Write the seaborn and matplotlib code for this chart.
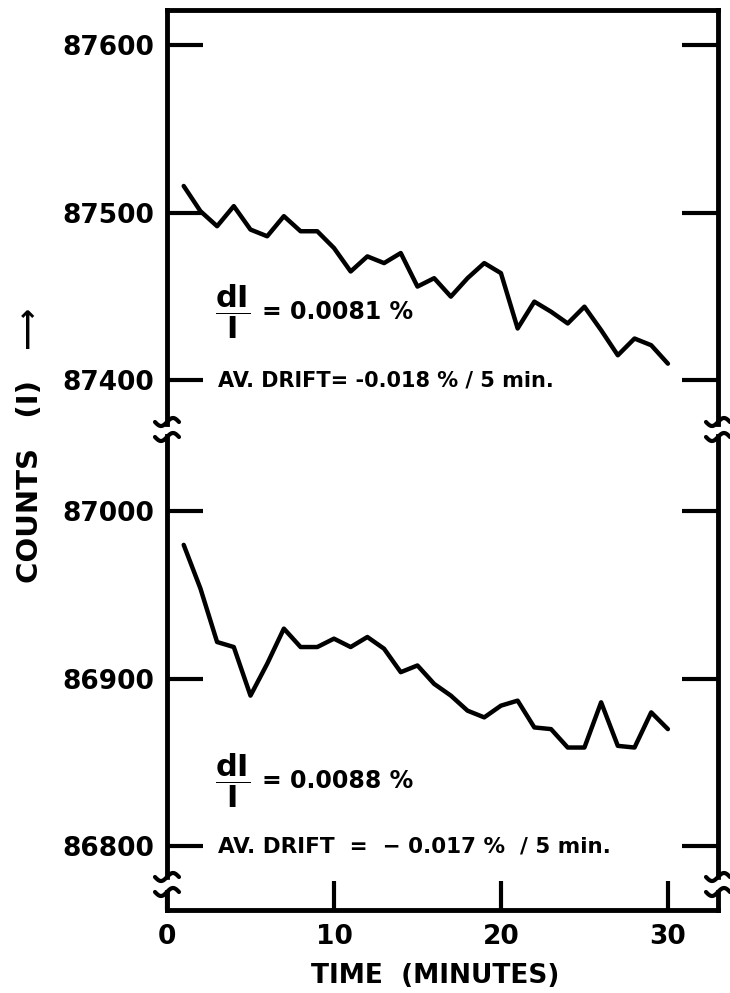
import numpy as np
import matplotlib
matplotlib.use("Agg")
import matplotlib.pyplot as plt
import seaborn as sns
from matplotlib.lines import Line2D
from matplotlib.patches import Rectangle

# Dados (contagens por minuto)
minutes = list(range(1, 31))
top_counts = [87516, 87501, 87492, 87504, 87490, 87486, 87498, 87489, 87489, 87479,
              87465, 87474, 87470, 87476, 87456, 87461, 87450, 87461, 87470, 87464,
              87431, 87447, 87441, 87434, 87444, 87430, 87415, 87425, 87421, 87410]
bottom_counts = [86980, 86954, 86922, 86919, 86890, 86909, 86930, 86919, 86919, 86924,
                 86919, 86925, 86918, 86904, 86908, 86897, 86890, 86881, 86877, 86884,
                 86887, 86871, 86870, 86859, 86859, 86886, 86860, 86859, 86880, 86870]
top_ticks = [87400, 87500, 87600]
bottom_ticks = [86800, 86900, 87000]
x_ticks = [0, 10, 20, 30]

sns.set_theme(style="white")
plt.rcParams["font.family"] = ["DejaVu Sans"]
plt.rcParams["font.weight"] = "bold"
plt.rcParams["mathtext.fontset"] = "dejavusans"
plt.rcParams["text.color"] = "black"
plt.rcParams["axes.labelcolor"] = "black"

W, H = 730, 993
fig = plt.figure(figsize=(W / 100, H / 100), dpi=100)
fig.patch.set_facecolor("white")

ax_top = fig.add_axes([167 / W, 1 - 424 / H, 551 / W, 414 / H])
ax_bot = fig.add_axes([167 / W, 1 - 910 / H, 551 / W, 474 / H])

sns.lineplot(x=minutes, y=top_counts, ax=ax_top, color="black", linewidth=3.2)
sns.lineplot(x=minutes, y=bottom_counts, ax=ax_bot, color="black", linewidth=3.2)

ax_top.set_ylim(87374, 87621)
ax_bot.set_ylim(86762, 87045)
for ax in (ax_top, ax_bot):
    ax.set_xlim(0, 33)
    ax.set_facecolor("white")
    for sp in ax.spines.values():
        sp.set_linewidth(3.5)
        sp.set_color("black")
    ax.tick_params(axis="y", direction="in", length=26, width=3, left=True, right=True,
                   labelsize=19, pad=9, colors="black")
    ax.set_xlabel("")
    ax.set_ylabel("")

ax_top.spines["bottom"].set_visible(False)
ax_top.set_xticks([])
ax_top.set_yticks(top_ticks)
ax_top.set_yticklabels([str(t) for t in top_ticks], fontweight="bold")

ax_bot.spines["top"].set_visible(False)
ax_bot.set_yticks(bottom_ticks)
ax_bot.set_yticklabels([str(t) for t in bottom_ticks], fontweight="bold")
ax_bot.set_xticks(x_ticks)
ax_bot.set_xticklabels([str(t) for t in x_ticks], fontweight="bold")
ax_bot.tick_params(axis="x", direction="in", length=21, width=3, bottom=True,
                   labelsize=19, pad=10, colors="black")
ax_bot.set_xlabel("TIME  (MINUTES)", fontsize=19, fontweight="bold")
ax_bot.xaxis.set_label_coords((435 - 167) / 551, -53 / 474)

fig.text(30 / W, 1 - 445 / H, "COUNTS   (I)   ⟶", rotation=90, ha="center", va="center",
         fontsize=21, fontweight="bold")

# Anotações
cond = ["Liberation Sans Narrow", "DejaVu Sans Condensed", "DejaVu Sans"]
frac = r"$\dfrac{\mathbf{dI}}{\mathbf{I}}$"
ax_top.text(2.85, 87441, frac, fontsize=22, ha="left", va="center")
ax_top.text(5.7, 87441, "= 0.0081 %", fontsize=17, fontweight="bold", family=cond,
            ha="left", va="center")
ax_top.text(3.05, 87400, "AV. DRIFT= -0.018 % / 5 min.", fontsize=15,
            fontweight="bold", family=cond, ha="left", va="center")
ax_bot.text(2.85, 86839, frac, fontsize=22, ha="left", va="center")
ax_bot.text(5.7, 86839, "= 0.0088 %", fontsize=17, fontweight="bold", family=cond,
            ha="left", va="center")
ax_bot.text(3.05, 86800, "AV. DRIFT  =  − 0.017 %  / 5 min.", fontsize=15.5,
            fontweight="bold", family=cond, ha="left", va="center")

# Marcas de quebra do eixo
for xs in (167, 718):
    fig.add_artist(Rectangle(((xs - 6) / W, 1 - 889 / H), 12 / W, 9 / H,
                             transform=fig.transFigure, color="white", zorder=5))


def wave(xp, yp):
    t = np.linspace(-1, 1, 40)
    fig.add_artist(Line2D((xp + 12 * t) / W, 1 - (yp - 4 * np.sin(np.pi * t)) / H,
                          transform=fig.transFigure, color="black", lw=3,
                          solid_capstyle="round", zorder=6))


for xs in (167, 718):
    for yp in (422, 437, 877, 892):
        wave(xs, yp)

fig.savefig("out.png", dpi=100, facecolor="white")
